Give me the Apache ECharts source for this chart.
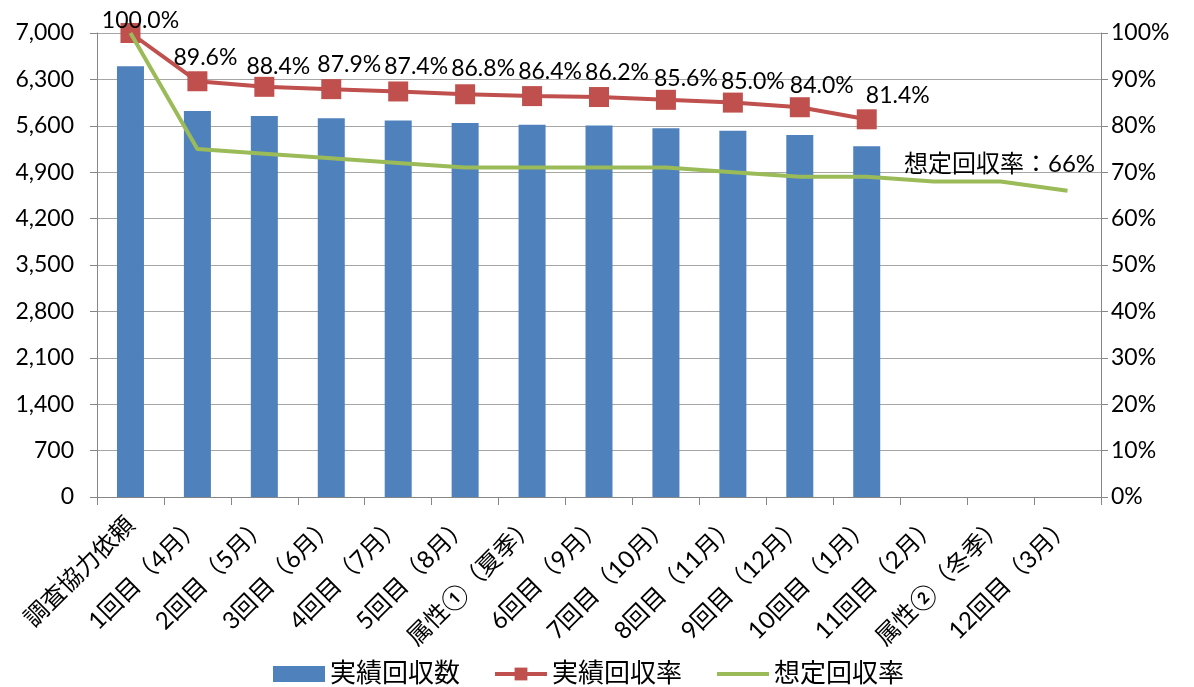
<!DOCTYPE html>
<html><head><meta charset="utf-8">
<script src="https://cdn.jsdelivr.net/npm/echarts@6/dist/echarts.min.js"></script>
<style>html,body{margin:0;padding:0;background:#fff}#c{width:1194px;height:687px}</style>
</head><body><div id="c"></div>
<script>
const categories = ['調査協力依頼','1回目（4月）','2回目（5月）','3回目（6月）','4回目（7月）','5回目（8月）','属性①（夏季）','6回目（9月）','7回目（10月）','8回目（11月）','9回目（12月）','10回目（1月）','11回目（2月）','属性②（冬季）','12回目（3月）'];
const actualCount = [6500, 5824, 5746, 5714, 5681, 5642, 5616, 5603, 5564, 5525, 5460, 5291];
const actualRate = [100.0, 89.6, 88.4, 87.9, 87.4, 86.8, 86.4, 86.2, 85.6, 85.0, 84.0, 81.4];
const expectedRate = [100, 75, 74, 73, 72, 71, 71, 71, 71, 70, 69, 69, 68, 68, 66];
const expectedNote = '想定回収率：66%';
const leftTicks = {min: 0, max: 7000, interval: 700};
const rightTicks = {min: 0, max: 100, interval: 10};

// label placement (style only)
const rateLabelDx = [10, 8, 14, 18, 18, 18, 18, 18, 20, 20, 22, 31];
const rateLabelDy = [9, -2, 1, -3, -3, -4, -3, -3, 0, 0, 0, -2];

const FONT = "Lato, 'Noto Sans CJK JP', sans-serif";
const AX = '#868686';
const chart = echarts.init(document.getElementById('c'));
chart.setOption({
  animation: false,
  textStyle: {fontFamily: FONT, color: '#000'},
  grid: {left: 97, right: 93, top: 33, bottom: 190},
  legend: {
    top: 656, left: 268, itemGap: 33, itemWidth: 52, itemHeight: 16,
    textStyle: {fontSize: 26, color: '#000', fontFamily: FONT},
    data: [
      {name: '実績回収数', icon: 'rect'},
      {name: '実績回収率', lineStyle: {width: 4}},
      {name: '想定回収率', itemStyle: {opacity: 0}, lineStyle: {width: 4, opacity: 1}}
    ]
  },
  xAxis: {
    type: 'category', data: categories,
    axisLine: {lineStyle: {color: AX, width: 1}},
    axisTick: {show: true, length: 8, lineStyle: {color: AX}},
    axisLabel: {rotate: 45, fontSize: 24, color: '#000', margin: 24, interval: 0}
  },
  yAxis: [
    {
      type: 'value', min: leftTicks.min, max: leftTicks.max, interval: leftTicks.interval,
      axisLine: {show: true, lineStyle: {color: AX}},
      axisTick: {show: true, length: 7, lineStyle: {color: AX}},
      splitLine: {lineStyle: {color: '#a6a6a6', width: 1}},
      axisLabel: {fontSize: 23, color: '#000', margin: 23,
        formatter: v => v.toLocaleString('en-US')}
    },
    {
      type: 'value', min: rightTicks.min, max: rightTicks.max, interval: rightTicks.interval,
      position: 'right',
      axisLine: {show: true, lineStyle: {color: AX}},
      axisTick: {show: true, length: 7, lineStyle: {color: AX}},
      splitLine: {show: false},
      axisLabel: {fontSize: 23, color: '#000', margin: 10, formatter: v => v + '%'}
    }
  ],
  series: [
    {
      name: '実績回収数', type: 'bar', data: actualCount, barWidth: 27,
      itemStyle: {color: '#4F81BD'}, z: 2
    },
    {
      name: '実績回収率', type: 'line', yAxisIndex: 1,
      data: actualRate.map((v, i) => ({value: v, label: {offset: [rateLabelDx[i], rateLabelDy[i]]}})),
      symbol: 'rect', symbolSize: 20,
      lineStyle: {color: '#C0504D', width: 4},
      itemStyle: {color: '#C0504D'},
      label: {show: true, position: 'top', distance: 0, fontSize: 23, color: '#000',
        fontFamily: FONT, formatter: p => p.value.toFixed(1) + '%'},
      z: 3
    },
    {
      name: '想定回収率', type: 'line', yAxisIndex: 1, data: expectedRate,
      symbol: 'none',
      lineStyle: {color: '#9BBB59', width: 4},
      itemStyle: {color: '#9BBB59'},
      markPoint: {
        symbol: 'rect', symbolSize: 0, silent: true,
        data: [{coord: [expectedRate.length - 1, expectedRate[expectedRate.length - 1]]}],
        label: {show: true, position: 'inside', offset: [-68, -26], fontSize: 24, color: '#000',
          fontFamily: FONT, formatter: () => expectedNote}
      },
      z: 4
    }
  ]
});
</script></body></html>
